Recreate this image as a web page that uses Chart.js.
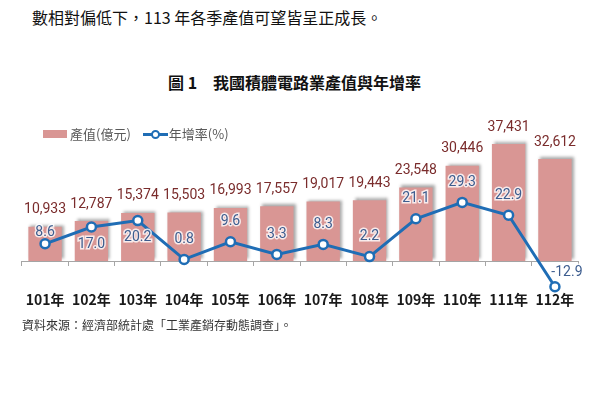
<!DOCTYPE html>
<html lang="zh-Hant">
<head>
<meta charset="utf-8">
<title>我國積體電路業產值與年增率</title>
<script src="https://cdn.jsdelivr.net/npm/chart.js@4.4.1/dist/chart.umd.min.js"></script>
<style>
  body { margin: 0; background: #fff; font-family: 'Noto Sans CJK TC', sans-serif; }
  #page { position: relative; width: 600px; height: 400px; overflow: hidden; }
  #chartBox { position: absolute; left: 0; top: 0; width: 600px; height: 400px; }
  .txt { position: absolute; white-space: nowrap; }
  #sentence { left: 32px; top: 7px; font-size: 16px; line-height: 20px; color: #111; }
  #figTitle { left: 168px; top: 72px; font-size: 16px; line-height: 20px; font-weight: bold; color: #111; }
  #legend { left: 43px; top: 124px; font-size: 13px; line-height: 18px; color: #595959; }
  #legend span { display: inline-block; vertical-align: middle; }
  .swatch-bar { width: 24px; height: 8px; background: #d99694; margin-right: 3px; }
  .swatch-line { position: relative; width: 25px; height: 10px; margin-left: 12px; margin-right: 1px; }
  .swatch-line::before { content: ''; position: absolute; left: 0; right: 0; top: 4px; height: 3px; background: #1f6db5; }
  .swatch-line::after { content: ''; position: absolute; left: 8px; top: 1px; width: 5px; height: 5px; border: 2px solid #1f6db5; border-radius: 50%; background: #fff; }
  #source { left: 22px; top: 317px; font-size: 12px; line-height: 16px; color: #333; }
</style>
</head>
<body>
<div id="page">
  <div class="txt" id="sentence">數相對偏低下，113 年各季產值可望皆呈正成長。</div>
  <div class="txt" id="figTitle">圖 1　我國積體電路業產值與年增率</div>
  <div id="chartBox"><canvas id="icChart"></canvas></div>
  <div class="txt" id="legend"><span class="swatch-bar"></span><span>產值(億元)</span><span class="swatch-line"></span><span>年增率(%)</span></div>
  <div class="txt" id="source">資料來源：經濟部統計處「工業產銷存動態調查」。</div>
</div>
<script>
// Data
const years = ['101年', '102年', '103年', '104年', '105年', '106年', '107年', '108年', '109年', '110年', '111年', '112年'];
const outputValues = [10933, 12787, 15374, 15503, 16993, 17557, 19017, 19443, 23548, 30446, 37431, 32612];
const growthRates = [8.6, 17.0, 20.2, 0.8, 9.6, 3.3, 8.3, 2.2, 21.1, 29.3, 22.9, -12.9];
const rateLabelSide = ['near', 'below', 'below', 'above', 'above', 'above', 'above', 'above', 'above', 'above', 'above', 'right'];

const barColor = '#d99694';
const lineColor = '#1f6db5';
const numFont = "14px Roboto, sans-serif";

// Bar shadow (upper right, like the Excel original)
const barShadow = {
  id: 'barShadow',
  beforeDatasetDraw(chart, args) {
    if (args.meta.type !== 'bar') return;
    const ctx = chart.ctx;
    ctx.save();
    ctx.shadowColor = 'rgba(0, 0, 0, 0.35)';
    ctx.shadowBlur = 3;
    ctx.shadowOffsetX = 2;
    ctx.shadowOffsetY = -2;
  },
  afterDatasetDraw(chart, args) {
    if (args.meta.type !== 'bar') return;
    chart.ctx.restore();
  }
};

// Value labels
const valueLabels = {
  id: 'valueLabels',
  afterDatasetsDraw(chart) {
    const ctx = chart.ctx;
    ctx.save();
    ctx.font = numFont;
    ctx.textAlign = 'center';
    ctx.textBaseline = 'middle';

    const barMeta = chart.getDatasetMeta(1);
    barMeta.data.forEach((bar, i) => {
      ctx.fillStyle = '#7a2c2c';
      ctx.fillText(outputValues[i].toLocaleString('en-US'), bar.x, bar.y - 17);
    });

    const lineMeta = chart.getDatasetMeta(0);
    lineMeta.data.forEach((pt, i) => {
      let dx = 0, dy = -20;
      if (rateLabelSide[i] === 'below') dy = 17;
      if (rateLabelSide[i] === 'near') dy = -11;
      if (rateLabelSide[i] === 'right') { dx = 12; dy = -14; }
      const text = growthRates[i].toFixed(1);
      ctx.lineWidth = 3;
      ctx.strokeStyle = 'rgba(255, 255, 255, 0.8)';
      ctx.strokeText(text, pt.x + dx, pt.y + dy);
      ctx.fillStyle = '#3d5d8f';
      ctx.fillText(text, pt.x + dx, pt.y + dy);
    });
    ctx.restore();
  }
};

const ctx = document.getElementById('icChart').getContext('2d');
new Chart(ctx, {
  data: {
    labels: years,
    datasets: [
      {
        type: 'line',
        label: '年增率(%)',
        data: growthRates,
        yAxisID: 'yRate',
        borderColor: lineColor,
        borderWidth: 3,
        pointRadius: 4.5,
        pointBorderWidth: 2.5,
        pointBackgroundColor: '#fff',
        pointBorderColor: lineColor,
        tension: 0,
        clip: false,
        order: 0,
      },
      {
        type: 'bar',
        label: '產值(億元)',
        data: outputValues,
        yAxisID: 'yBar',
        backgroundColor: barColor,
        categoryPercentage: 1,
        barPercentage: 0.72,
        order: 1,
      },
    ],
  },
  options: {
    responsive: true,
    maintainAspectRatio: false,
    animation: false,
    layout: {
      padding: { top: 136, left: 7, right: 6, bottom: 95 },
    },
    plugins: {
      legend: { display: false },
      tooltip: { enabled: false },
    },
    scales: {
      x: {
        // axis line sits at zero of both value axes
        position: { yBar: 0 },
        grid: {
          offset: true,
          drawOnChartArea: false,
          drawTicks: true,
          tickLength: 4,
          color: '#a6a6a6',
        },
        border: { display: true, color: '#a6a6a6', width: 1 },
        ticks: {
          color: '#1a1a1a',
          font: { family: "'Noto Sans CJK TC', sans-serif", size: 14, weight: 'bold' },
          padding: 26,
          maxRotation: 0,
        },
      },
      yBar: {
        display: false,
        min: -14080,
        max: 40000,
      },
      yRate: {
        display: false,
        min: -22,
        max: 62.5,
      },
    },
  },
  plugins: [barShadow, valueLabels],
});
</script>
</body>
</html>
